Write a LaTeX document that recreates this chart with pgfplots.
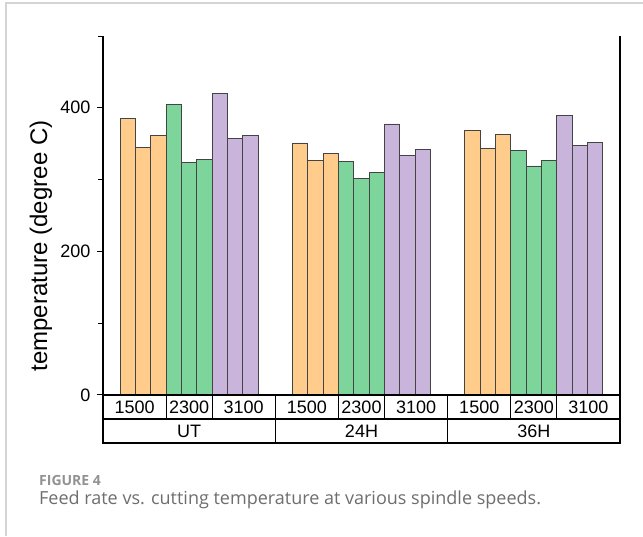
\documentclass[border=0pt]{standalone}
\usepackage{fontspec}
\setmainfont{Liberation Sans}
\newfontfamily\capfont{Open Sans}
\usepackage{pgfplots}
\pgfplotsset{compat=1.18}
\definecolor{bor}{HTML}{FFCC8C}
\definecolor{bgr}{HTML}{7ED59B}
\definecolor{bpu}{HTML}{C9B5DB}
\definecolor{edge}{HTML}{444444}
\definecolor{capgray}{HTML}{6E6E6E}
\definecolor{framegray}{HTML}{D4D4D4}
\begin{document}
\begin{tikzpicture}
\useasboundingbox (0,0) rectangle (643pt,536pt);
\fill[white] (0,0) rectangle (643pt,536pt);
\draw[framegray, line width=1.5pt] (6pt,0) -- (6pt,533pt) -- (643pt,533pt);
\begin{axis}[
 at={(103pt,141pt)}, anchor=south west,
 scale only axis, width=517pt, height=359pt,
 xmin=0, xmax=33.75, ymin=0, ymax=500,
 axis x line*=bottom, axis y line*=left,
 axis line style={-, black, line width=1.2pt},
 xtick=\empty,
 ytick={0,200,400}, minor ytick={100,300,500},
 tick align=outside, major tick length=6pt, minor tick length=5pt,
 tick style={black, line width=1pt},
 /pgf/number format/assume math mode=true,
 yticklabel style={font=\fontsize{18}{21}\selectfont, xshift=-3pt},
 clip=false,
]
\addplot[ybar, bar width=1, bar shift=0pt, fill=bor, draw=edge, line width=0.9pt] coordinates {
 (1.625,385) (2.625,345) (3.625,362)
 (12.875,351) (13.875,326) (14.875,336.5)
 (24.125,368) (25.125,343.5) (26.125,363.5)};
\addplot[ybar, bar width=1, bar shift=0pt, fill=bgr, draw=edge, line width=0.9pt] coordinates {
 (4.625,405) (5.625,323.5) (6.625,328)
 (15.875,325) (16.875,301) (17.875,310)
 (27.125,340) (28.125,319) (29.125,326)};
\addplot[ybar, bar width=1, bar shift=0pt, fill=bpu, draw=edge, line width=0.9pt] coordinates {
 (7.625,420) (8.625,357.5) (9.625,362)
 (18.875,377.5) (19.875,334) (20.875,342.5)
 (30.125,389.5) (31.125,347.5) (32.125,351.5)};
% frame and table
\draw[black, line width=1.2pt] (axis cs:33.75,500) -- (axis cs:33.75,-66.85) -- (axis cs:0,-66.85) -- (axis cs:0,0);
\draw[black, line width=1.2pt] (axis cs:0,0) -- (axis cs:33.75,0);
\draw[black, line width=1.2pt] (axis cs:0,-33.43) -- (axis cs:33.75,-33.43);
\draw[black, line width=1.2pt] (axis cs:11.25,0) -- (axis cs:11.25,-66.85);
\draw[black, line width=1.2pt] (axis cs:22.5,0) -- (axis cs:22.5,-66.85);
\draw[black, line width=1.2pt] (axis cs:4.125,0) -- (axis cs:4.125,-33.43);
\draw[black, line width=1.2pt] (axis cs:7.125,0) -- (axis cs:7.125,-33.43);
\draw[black, line width=1.2pt] (axis cs:15.375,0) -- (axis cs:15.375,-33.43);
\draw[black, line width=1.2pt] (axis cs:18.375,0) -- (axis cs:18.375,-33.43);
\draw[black, line width=1.2pt] (axis cs:26.625,0) -- (axis cs:26.625,-33.43);
\draw[black, line width=1.2pt] (axis cs:29.625,0) -- (axis cs:29.625,-33.43);
\begin{scope}[every node/.style={font=\fontsize{18}{21}\selectfont}]
\node at (axis cs:2.0625,-16.7) {1500};
\node at (axis cs:5.625,-16.7) {2300};
\node at (axis cs:9.1875,-16.7) {3100};
\node at (axis cs:13.3125,-16.7) {1500};
\node at (axis cs:16.875,-16.7) {2300};
\node at (axis cs:20.4375,-16.7) {3100};
\node at (axis cs:24.5625,-16.7) {1500};
\node at (axis cs:28.125,-16.7) {2300};
\node at (axis cs:31.6875,-16.7) {3100};
\node at (axis cs:5.625,-50.1) {UT};
\node at (axis cs:16.875,-50.1) {24H};
\node at (axis cs:28.125,-50.1) {36H};
\end{scope}
\end{axis}
\node[rotate=90, font=\fontsize{24}{28}\selectfont] at (41pt,290pt) {temperature (degree C)};
\node[anchor=base west, inner sep=0pt, font=\capfont\bfseries\fontsize{14}{17}\selectfont, text=capgray!75] at (39pt,51pt) {FIGURE 4};
\node[anchor=base west, inner sep=0pt, font=\capfont\fontsize{18}{21}\selectfont, text=capgray] at (39pt,31pt) {Feed rate vs. cutting temperature at various spindle speeds.};
\end{tikzpicture}
\end{document}
